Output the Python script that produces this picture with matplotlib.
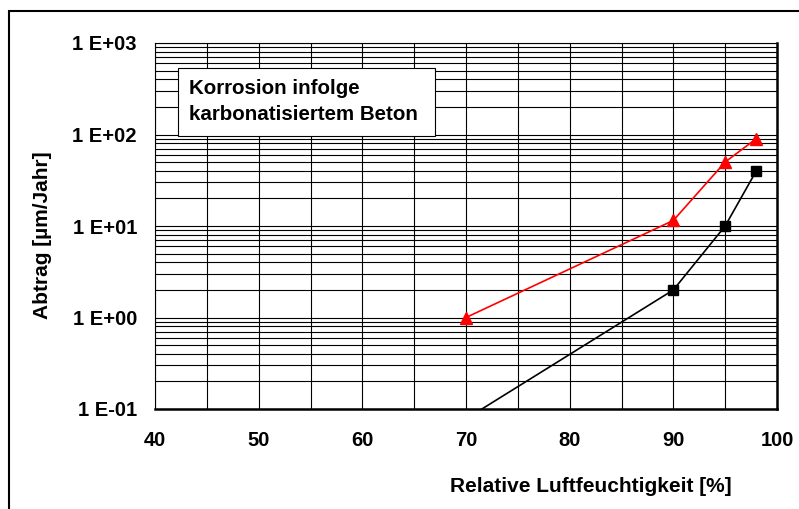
import numpy as np
import matplotlib.pyplot as plt
from matplotlib.patches import Rectangle
from matplotlib.ticker import FixedLocator, NullFormatter

plt.rcParams['font.family'] = ['Liberation Sans', 'DejaVu Sans']
plt.rcParams['font.weight'] = 'bold'

# Daten
feuchte_rot = [70, 90, 95, 98]
abtrag_rot = [1.0, 11.5, 50, 90]
feuchte_schwarz = [70, 90, 95, 98]
abtrag_schwarz = [0.078, 2.0, 10.0, 40.0]

y_ticks = [0.1, 1, 10, 100, 1000]
y_labels = ['1 E-01', '1 E+00', '1 E+01', '1 E+02', '1 E+03']
x_ticks = [40, 50, 60, 70, 80, 90, 100]

W, H = 799, 509
def fx(px): return px / W
def fy(py): return 1 - py / H

fig = plt.figure(figsize=(W / 100, H / 100), dpi=100)
ax = fig.add_axes([fx(155), fy(409), fx(777) - fx(155), fy(43) - fy(409)])

ax.set_yscale('log')
ax.set_xlim(40, 100)
ax.set_ylim(0.1, 1000)

# gitter
minor_y = [m * 10.0 ** e for e in range(-1, 3) for m in range(2, 10)]
ax.yaxis.set_minor_locator(FixedLocator(minor_y))
ax.yaxis.set_minor_formatter(NullFormatter())
ax.set_xticks(x_ticks)
ax.set_xticks(np.arange(45, 100, 10), minor=True)
ax.grid(True, which='both', color='black', lw=0.8)
ax.set_axisbelow(True)

ax.plot(feuchte_schwarz, abtrag_schwarz, color='black', lw=1.2,
        marker='s', ms=7.5, clip_on=True, zorder=3)
ax.plot(feuchte_rot, abtrag_rot, color='red', lw=1.2,
        marker='^', ms=8, zorder=3)

ax.set_yticks(y_ticks)
ax.set_yticklabels(y_labels)
ax.tick_params(axis='both', which='both', length=0, labelsize=14.5)
ax.tick_params(axis='y', pad=13)
ax.tick_params(axis='x', pad=16)

for s in ['left', 'top']:
    ax.spines[s].set_linewidth(0.8)
for s in ['right', 'bottom']:
    ax.spines[s].set_linewidth(1.8)

fig.text(fx(43), fy(235), 'Abtrag [µm/Jahr]', rotation=90, ha='center',
         va='center', fontsize=15, fontweight='bold')
fig.text(fx(591), fy(487), 'Relative Luftfeuchtigkeit [%]', ha='center',
         va='center', fontsize=15, fontweight='bold')

# textbox
fig.patches.append(Rectangle((fx(178), fy(136)), fx(435) - fx(178), fy(68) - fy(136),
                             transform=fig.transFigure, facecolor='white',
                             edgecolor='black', lw=0.8, zorder=5))
fig.text(fx(189), fy(89), 'Korrosion infolge', ha='left', va='center',
         fontsize=14.8, fontweight='bold', zorder=6)
fig.text(fx(189), fy(115), 'karbonatisiertem Beton', ha='left', va='center',
         fontsize=14.8, fontweight='bold', zorder=6)

# rahmen
fig.patches.append(Rectangle((fx(9), fy(560)), fx(850), fy(11) - fy(560),
                             transform=fig.transFigure, fill=False,
                             edgecolor='black', lw=1.5))

fig.savefig('out.png', dpi=100)
